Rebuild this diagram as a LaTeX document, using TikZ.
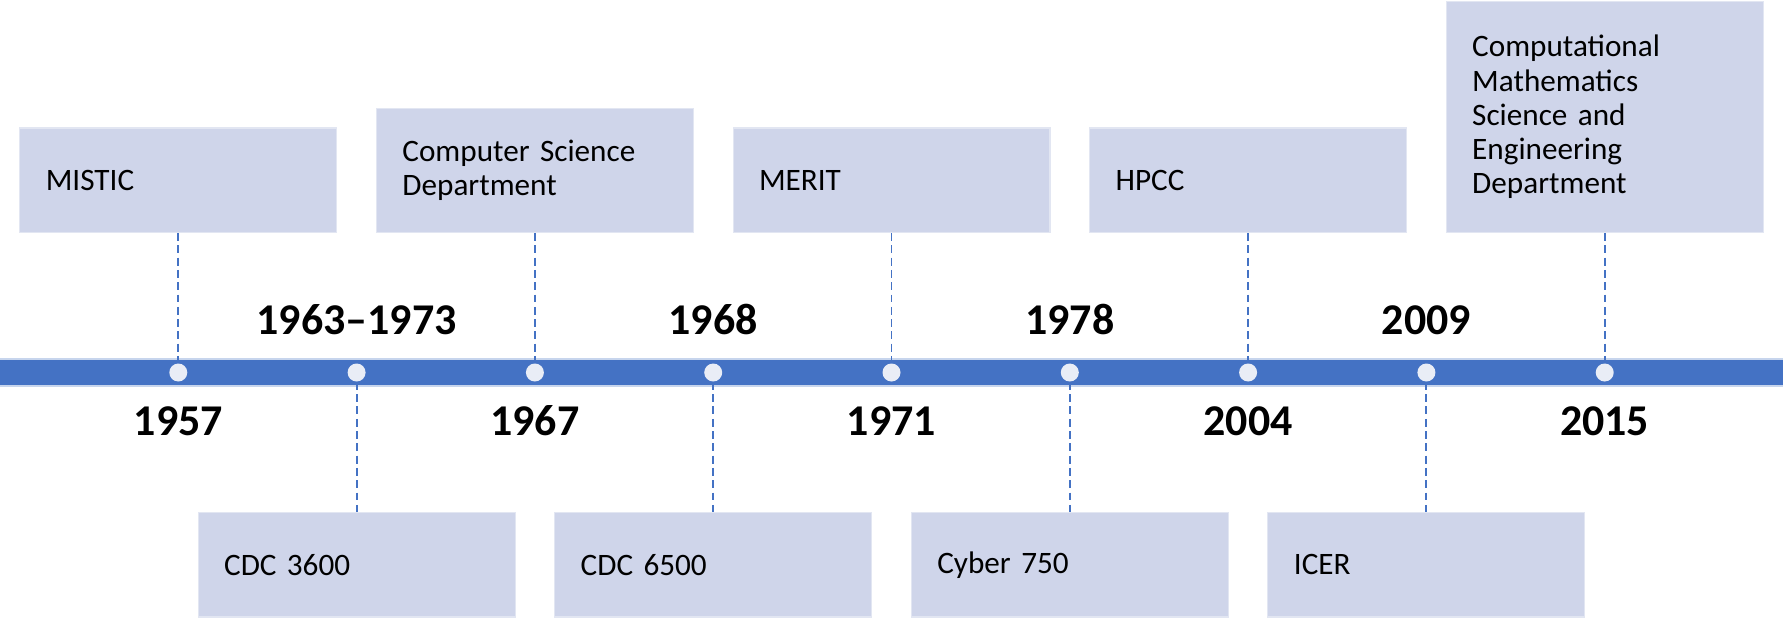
\documentclass[tikz,border=0pt]{standalone}
\usepackage{fontspec}
\setmainfont{Carlito}
\definecolor{barblue}{HTML}{4472C4}
\definecolor{boxfill}{HTML}{CFD5EA}
\definecolor{dotfill}{HTML}{E9EDF6}
\begin{document}
\begin{tikzpicture}[
        x=0.02cm, y=-0.02cm,
        event/.style={rectangle, fill=boxfill, draw=boxfill!60!white, line width=0.6pt, text width=5.3cm, inner xsep=0.52cm, inner ysep=0pt, align=left, font=\fontsize{17.75}{19.5}\selectfont},
        year/.style={anchor=base, font=\fontsize{25}{28}\selectfont\bfseries},
        milestone/.style={circle, fill=dotfill, inner sep=0pt, minimum size=0.36cm},
        link/.style={draw=barblue, line width=1.1pt, dash pattern=on 4.5pt off 2.5pt}
    ]
        \useasboundingbox (0,0) rectangle (1783,620);

        % time bar
        \fill[barblue] (0,359) rectangle (1783,386);
        \draw[white!70!barblue, line width=0.6pt] (0,359) -- (1783,359) (0,386) -- (1783,386);
        \foreach \i in {1,...,9}
            \node[milestone] (d\i) at (178.3*\i, 372.5) {};

        % events above
        \node[event, anchor=south, minimum height=2.09cm] at (178.3*1, 233) (mistic) {MISTIC};
        \node[event, anchor=south, minimum height=2.48cm] at (178.3*3, 233) (csd) {Computer Science\\Department};
        \node[event, anchor=south, minimum height=2.09cm] at (178.3*5, 233) (merit) {MERIT};
        \node[event, anchor=south, minimum height=2.09cm] at (178.3*7, 233) (hpcc) {HPCC};
        \node[event, anchor=south, minimum height=4.62cm] at (178.3*9, 233) (cmse) {Computational\\Mathematics\\Science and\\Engineering\\Department};

        % events below
        \node[event, anchor=north, minimum height=2.09cm] at (178.3*2, 512) (cdca) {CDC 3600};
        \node[event, anchor=north, minimum height=2.09cm] at (178.3*4, 512) (cdcb) {CDC 6500};
        \node[event, anchor=north, minimum height=2.09cm] at (178.3*6, 512) (cyber) {Cyber 750};
        \node[event, anchor=north, minimum height=2.09cm] at (178.3*8, 512) (icer) {ICER};

        % dashed links
        \draw[link] (mistic.south) -- (d1.north);
        \draw[link] (csd.south) -- (d3.north);
        \draw[link] (merit.south) -- (d5.north);
        \draw[link] (hpcc.south) -- (d7.north);
        \draw[link] (cmse.south) -- (d9.north);
        \draw[link] (d2.south) -- (cdca.north);
        \draw[link] (d4.south) -- (cdcb.north);
        \draw[link] (d6.south) -- (cyber.north);
        \draw[link] (d8.south) -- (icer.north);

        % years
        \node[year] at (178.3*1, 435.7) (y1) {1957};
        \node[year] at (178.3*2, 334.3) (y2) {1963--1973};
        \node[year] at (178.3*3, 435.7) (y3) {1967};
        \node[year] at (178.3*4, 334.3) (y4) {1968};
        \node[year] at (178.3*5, 435.7) (y5) {1971};
        \node[year] at (178.3*6, 334.3) (y6) {1978};
        \node[year] at (178.3*7, 435.7) (y7) {2004};
        \node[year] at (178.3*8, 334.3) (y8) {2009};
        \node[year] at (178.3*9, 435.7) (y9) {2015};
    \end{tikzpicture}
\end{document}
